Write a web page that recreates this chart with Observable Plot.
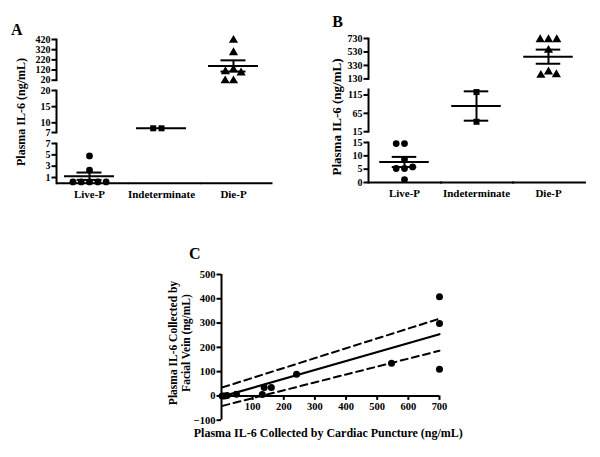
<!DOCTYPE html>
<html><head><meta charset="utf-8">
<script src="https://cdn.jsdelivr.net/npm/d3@7"></script>
<script src="https://cdn.jsdelivr.net/npm/@observablehq/plot@0.6"></script>
<style>
html,body{margin:0;padding:0;background:#fff;}
#root{position:relative;width:600px;height:457px;overflow:hidden;font-family:"Liberation Serif",serif;font-weight:bold;color:#000;}
.lbl{position:absolute;white-space:nowrap;font-weight:bold;line-height:1;transform-origin:50% 50%;}
</style></head><body><div id="root"></div>
<script>
// ---------- data ----------
const groups = ["Live-P", "Indeterminate", "Die-P"];
const symbols = ["circle", "square", "triangle"];

// Panel A (Plasma IL-6, ng/mL)
const aLive = [0.23, 0.23, 0.23, 0.23, 0.23, 2.3, 4.8];
const aIndet = [8.3, 8.3];
const aDie = [413, 292, 125, 105, 92, 15, 15];
const aMean = [1.23, 8.3, 160];
const aSem = [0.65, 0, 55];
const aTicksTop = [20, 120, 220, 320, 420];
const aTicksMid = [7, 10, 15, 20];
const aTicksLow = [1, 3, 5, 7];

// Panel B (Plasma IL-6, ng/mL)
const bLive = [14.6, 14.6, 8.7, 5.25, 5.25, 5.85, 1.1];
const bIndet = [123, 42];
const bDie = [715, 715, 715, 556, 234, 185, 195];
const bMean = [7.7, 85, 460];
const bSem = [1.9, 40, 105];
const bTicksTop = [130, 330, 530, 730];
const bTicksMid = [15, 65, 115];
const bTicksLow = [0, 5, 10, 15];

// Panel C (cardiac puncture vs facial vein)
const cCardiac = [2, 10, 18, 48, 131, 137, 160, 241, 546, 700, 700, 700];
const cFacial  = [0, 0, 2, 7, 6, 35, 35, 89, 134, 408, 298, 110];
const cFitX = [3, 700];
const cFitY = [-2, 254];
const cUpperY = [35, 318];
const cLowerY = [-41, 186];
const cXTicks = [100, 200, 300, 400, 500, 600, 700];
const cYTicks = [-100, 0, 100, 200, 300, 400, 500];

// ---------- helpers ----------
const root = document.getElementById("root");
const FONT = '"Liberation Serif", "Times New Roman", serif';
const TICK_FONT = 10;

function place(el, left, top) {
  el.style.position = "absolute";
  el.style.left = left + "px";
  el.style.top = top + "px";
  root.appendChild(el);
}
function label(text, cx, cy, size, rot) {
  const d = document.createElement("div");
  d.className = "lbl";
  d.textContent = text;
  d.style.fontSize = size + "px";
  d.style.left = cx + "px";
  d.style.top = cy + "px";
  d.style.transform = `translate(-50%,-50%)` + (rot ? ` rotate(${rot}deg)` : "");
  root.appendChild(d);
}

function makePanel(vals, means, sems) {
  const pts = groups.flatMap((g, i) => vals[i].map(v => ({g, v})));
  const stats = groups.map((g, i) => ({g, mean: means[i], sem: sems[i]}));
  return {pts, stats};
}

function segmentPlot(panel, geo, seg) {
  const mL = 40, mR = 12, mT = 8, mB = seg.base ? 30 : 8;
  const segPts = panel.pts.filter(d => d.g === seg.group);
  const segStats = panel.stats.filter(d => d.g === seg.group);
  const err = segStats.filter(d => d.sem > 0);
  const marks = [
    Plot.axisY({ticks: seg.ticks, tickSize: 4.5, tickPadding: 1.5, tickFormat: d => String(d),
      strokeWidth: 2, fontSize: TICK_FONT, label: null, facetAnchor: "left"}),
    Plot.frame({anchor: "left", facetAnchor: "left", strokeWidth: 2}),
    Plot.tickY(segStats, {fx: "g", y: "mean", insetLeft: geo.meanInset, insetRight: geo.meanInset, strokeWidth: 2}),
    Plot.tickY(err, {fx: "g", y: d => d.mean + d.sem, insetLeft: geo.capInset, insetRight: geo.capInset, strokeWidth: 2}),
    Plot.tickY(err, {fx: "g", y: d => d.mean - d.sem, insetLeft: geo.capInset, insetRight: geo.capInset, strokeWidth: 2}),
    Plot.ruleX(err, {fx: "g", x: null, y1: d => d.mean - d.sem, y2: d => d.mean + d.sem, strokeWidth: 2}),
    Plot.dot(segPts, Plot.dodgeX({anchor: "middle", padding: 1.5},
      {fx: "g", y: "v", r: 3.4, symbol: "g", fill: "black", stroke: null}))
  ];
  if (seg.base) {
    marks.push(Plot.ruleY(groups, {fx: d => d, y: () => 0, insetRight: -geo.ext, strokeWidth: 2}));
    marks.push(Plot.axisFx({anchor: "bottom", tickSize: 0, tickPadding: 7, fontSize: 11, label: null}));
  }
  const p = Plot.plot({
    width: mL + geo.W + mR,
    height: seg.bottom - seg.top + mT + mB,
    marginLeft: mL, marginRight: mR, marginTop: mT, marginBottom: mB,
    style: {background: "transparent", overflow: "visible", fontFamily: FONT, fontWeight: "bold", fontSize: "11px", color: "black"},
    fx: seg.base ? {domain: groups, paddingInner: geo.q, paddingOuter: 0, label: null}
                 : {domain: groups, paddingInner: geo.q, paddingOuter: 0, label: null, axis: null},
    y: {domain: seg.domain},
    symbol: {domain: groups, range: symbols},
    marks
  });
  place(p, geo.axisX - mL, seg.top - mT);
}

// ---------- Panel A ----------
const panelA = makePanel([aLive, aIndet, aDie], aMean, aSem);
const geoA = {axisX: 55, W: 211, q: 0.0897, meanInset: 8, capInset: 20.5, ext: 6.5};
segmentPlot(panelA, geoA, {domain: [20, 420], ticks: aTicksTop, top: 39.3, bottom: 80, group: "Die-P"});
segmentPlot(panelA, geoA, {domain: [7, 20], ticks: aTicksMid, top: 90, bottom: 132, group: "Indeterminate"});
segmentPlot(panelA, geoA, {domain: [0, 7], ticks: aTicksLow, top: 143.3, bottom: 183, group: "Live-P", base: true});

// ---------- Panel B ----------
const panelB = makePanel([bLive, bIndet, bDie], bMean, bSem);
const geoB = {axisX: 366.7, W: 217.5, q: 0, meanInset: 11.25, capInset: 23.75, ext: 2};
segmentPlot(panelB, geoB, {domain: [130, 730], ticks: bTicksTop, top: 38.3, bottom: 78.7, group: "Die-P"});
segmentPlot(panelB, geoB, {domain: [15, 130], ticks: bTicksMid, top: 88.5, bottom: 130.7, group: "Indeterminate"});
segmentPlot(panelB, geoB, {domain: [0, 15], ticks: bTicksLow, top: 142.3, bottom: 182.3, group: "Live-P", base: true});

// ---------- Panel C ----------
{
  const pts = cCardiac.map((x, i) => ({x, y: cFacial[i]}));
  const fit = cFitX.map((x, i) => ({x, y: cFitY[i]}));
  const upper = cFitX.map((x, i) => ({x, y: cUpperY[i]}));
  const lower = cFitX.map((x, i) => ({x, y: cLowerY[i]}));
  const mL = 40, mR = 12, mT = 8, mB = 8;
  const left = 221, right = 439, top = 274.3, bottom = 420;
  const p = Plot.plot({
    width: mL + (right - left) + mR,
    height: bottom - top + mT + mB,
    marginLeft: mL, marginRight: mR, marginTop: mT, marginBottom: mB,
    style: {background: "transparent", overflow: "visible", fontFamily: FONT, fontWeight: "bold", fontSize: "10.5px", color: "black"},
    x: {domain: [0, 700], axis: null},
    y: {domain: [-100, 500]},
    marks: [
      Plot.axisY({ticks: cYTicks, tickSize: 4.5, tickPadding: 1.5, strokeWidth: 2, fontSize: 10.5, label: null}),
      Plot.ruleX([0], {strokeWidth: 2}),
      Plot.ruleY([0], {strokeWidth: 2}),
      Plot.ruleX(cXTicks, {y1: () => 0, y2: () => 0, insetBottom: -4.5, strokeWidth: 2}),
      Plot.text(cXTicks, {x: d => d, y: () => 0, dy: 11, text: d => String(d), fontSize: 10.5}),
      Plot.line(upper, {x: "x", y: "y", strokeWidth: 2, strokeDasharray: "7,4.5"}),
      Plot.line(lower, {x: "x", y: "y", strokeWidth: 2, strokeDasharray: "7,4.5"}),
      Plot.line(fit, {x: "x", y: "y", strokeWidth: 2.2}),
      Plot.dot(pts, {x: "x", y: "y", r: 3.5, fill: "black", stroke: null})
    ]
  });
  place(p, left - mL, top - mT);
}

// ---------- titles ----------
label("A", 16.7, 30, 16);
label("B", 337.5, 21.7, 16);
label("C", 194.7, 253.7, 16);
label("Plasma IL-6 (ng/mL)", 21, 112, 12, -90);
label("Plasma IL-6 (ng/mL)", 335.8, 116.7, 13, -90);
label("Plasma IL-6 Collected by", 174, 342.5, 11.5, -90);
label("Facial Vein (ng/mL)", 186.5, 343.3, 11.5, -90);
label("Plasma IL-6 Collected by Cardiac Puncture (ng/mL)", 328.3, 433, 12);
</script></body></html>
